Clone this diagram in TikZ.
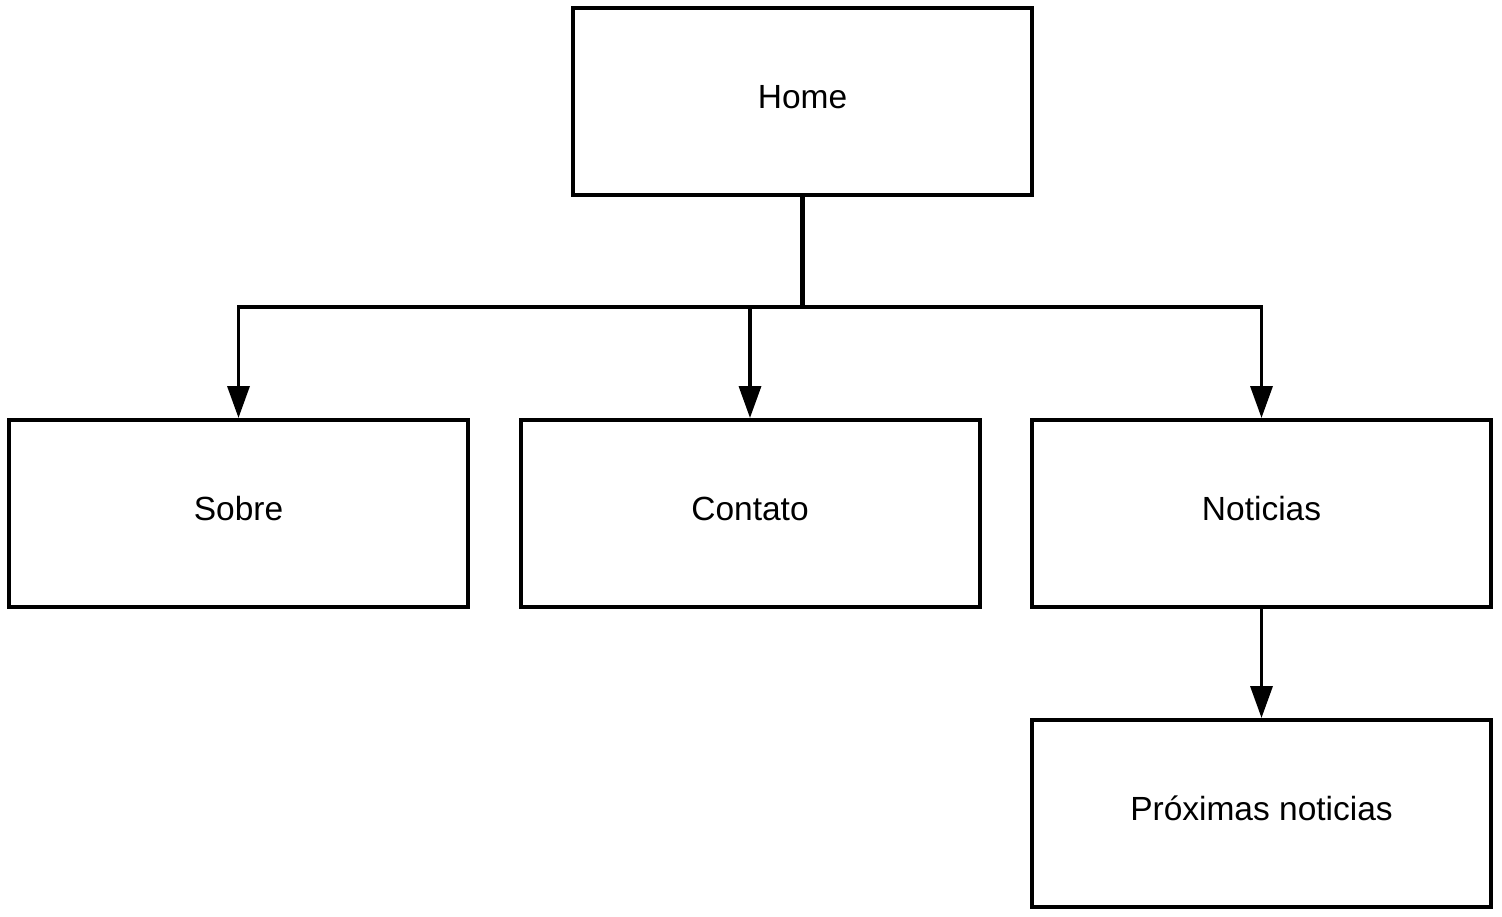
\documentclass[tikz,border=0pt]{standalone}
\usepackage{fontspec}
\setmainfont{Liberation Sans}
\usetikzlibrary{arrows.meta}
\begin{document}
\begin{tikzpicture}[x=1pt,y=-1pt,
  box/.style={draw=black, line width=4pt, fill=white, minimum width=459pt, minimum height=187pt, inner sep=0pt, text height=24pt, text depth=10pt, font=\fontsize{33.5}{40}\selectfont},
  conn/.style={draw=black, line width=3.5pt},
  arr/.style={conn, -{Triangle[width=22pt,length=32pt]}}]
\useasboundingbox (0,0) rectangle (1502,917);
\node[box] (home) at (802.5,101.5) {Home};
\node[box] (sobre) at (238.5,513.5) {Sobre};
\node[box] (contato) at (750,513.5) {Contato};
\node[box] (noticias) at (1261.5,513.5) {Noticias};
\node[box] (prox) at (1261.5,813.5) {Próximas noticias};
\coordinate (j) at (802.5,307);
\draw[conn, line width=5pt] (home.south) -- (j);
\draw[arr] (j) -| (sobre.north);
\draw[arr] (j) -| (contato.north);
\draw[arr] (j) -| (noticias.north);
\draw[arr] (noticias.south) -- (prox.north);
\end{tikzpicture}
\end{document}
